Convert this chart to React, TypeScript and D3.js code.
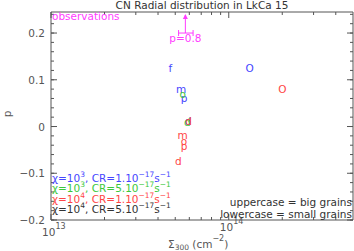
import React from "react";
import * as d3 from "d3";

// models: letter, sigma (cm^-2), p
const blueLetters = ["f", "m", "p", "d", "O"];
const blueSigma = [4.7e13, 5.4e13, 5.6e13, 5.9e13, 1.31e14];
const blueP = [0.125, 0.08, 0.06, 0.011, 0.125];

const greenLetters = ["o", "d"];
const greenSigma = [5.5e13, 5.85e13];
const greenP = [0.069, 0.009];

const redLetters = ["d", "m", "o", "p", "d", "O"];
const redSigma = [5.95e13, 5.5e13, 5.6e13, 5.6e13, 5.2e13, 2.0e14];
const redP = [0.011, -0.019, -0.03, -0.042, -0.074, 0.08];

const blackLetters: string[] = [];
const blackSigma: number[] = [];
const blackP: number[] = [];

const obsSigma = 5.7e13;
const obsSigmaLo = 5.22e13;
const obsSigmaHi = 6.3e13;
const obsP = 0.8;

const yMajor = [-0.2, -0.1, 0, 0.1, 0.2];
const yMajorLabels = ["\u22120.2", "\u22120.1", "0", "0.1", "0.2"];
const xMajor = [1e13, 1e14];
const xMajorExp = ["13", "14"];

const legendChi = ["3", "3", "4", "4"];
const legendCR = ["1", "5", "1", "5"];

const BLUE = "#4646ff";
const GREEN = "#3cc83c";
const RED = "#ff4646";
const BLACK = "#333333";
const MAGENTA = "#ff3cff";
const AXIS = "#555555";

const W = 354;
const H = 251;
const m = { left: 51, right: 353, top: 12, bottom: 220 };
const FONT = "DejaVu Sans";

export default function App() {
  const x = d3.scaleLog().domain([1e13, 5e14]).range([m.left, m.right]);
  const y = d3.scaleLinear().domain([-0.2, 0.245]).range([m.bottom, m.top]);

  const xMinor: number[] = [];
  for (const dec of [1e13, 1e14]) {
    for (let k = 2; k <= 9; k++) {
      const v = k * dec;
      if (v < 5e14) xMinor.push(v);
    }
  }
  const yMinor = d3.range(-0.2, 0.241, 0.02).map((v) => +v.toFixed(2));

  const series = [
    { color: BLUE, letters: blueLetters, sigma: blueSigma, p: blueP },
    { color: GREEN, letters: greenLetters, sigma: greenSigma, p: greenP },
    { color: RED, letters: redLetters, sigma: redSigma, p: redP },
    { color: BLACK, letters: blackLetters, sigma: blackSigma, p: blackP },
  ];
  const legendColors = [BLUE, GREEN, RED, BLACK];

  const ox = x(obsSigma);
  const oy = y(Math.min(obsP, 0.2));

  return (
    <svg
      width={W}
      height={H}
      style={{ position: "absolute", left: 0, top: 0, background: "#fff" }}
      fontFamily={FONT}
    >
      <rect width={W} height={H} fill="#fff" />
      {/* title */}
      <text x={(m.left + m.right) / 2} y={9} textAnchor="middle" fontSize={10.5} fill={BLACK}>
        CN Radial distribution in LkCa 15
      </text>

      {/* frame */}
      <g stroke={AXIS} strokeWidth={1} fill="none">
        <line x1={m.left} x2={m.right} y1={m.top} y2={m.top} />
        <line x1={m.left} x2={m.right} y1={m.bottom} y2={m.bottom} />
        <line x1={m.left} x2={m.left} y1={m.top} y2={m.bottom} />
        <line x1={m.right} x2={m.right} y1={m.top} y2={m.bottom} />
        {yMinor.map((v, i) => (
          <g key={"ym" + i}>
            <line x1={m.left} x2={m.left + 3} y1={y(v)} y2={y(v)} />
            <line x1={m.right} x2={m.right - 3} y1={y(v)} y2={y(v)} />
          </g>
        ))}
        {yMajor.map((v, i) => (
          <g key={"yM" + i}>
            <line x1={m.left} x2={m.left + 6} y1={y(v)} y2={y(v)} />
            <line x1={m.right} x2={m.right - 6} y1={y(v)} y2={y(v)} />
          </g>
        ))}
        {xMinor.map((v, i) => (
          <g key={"xm" + i}>
            <line x1={x(v)} x2={x(v)} y1={m.bottom} y2={m.bottom - 3} />
            <line x1={x(v)} x2={x(v)} y1={m.top} y2={m.top + 3} />
          </g>
        ))}
        {xMajor.map((v, i) => (
          <g key={"xM" + i}>
            <line x1={x(v)} x2={x(v)} y1={m.bottom} y2={m.bottom - 6} />
            <line x1={x(v)} x2={x(v)} y1={m.top} y2={m.top + 6} />
          </g>
        ))}
      </g>

      {/* y tick labels */}
      {yMajor.map((v, i) => (
        <text
          key={"yl" + i}
          x={45}
          y={y(v) + 4}
          textAnchor="end"
          fontSize={10.5}
          fill={AXIS}
        >
          {yMajorLabels[i]}
        </text>
      ))}
      {/* x tick labels */}
      {xMajor.map((v, i) => (
        <text
          key={"xl" + i}
          x={x(v) - 9}
          y={i === 0 ? 236 : 231}
          fontSize={10.5}
          fill={AXIS}
        >
          10
          <tspan dy={-7} fontSize={8}>
            {xMajorExp[i]}
          </tspan>
        </text>
      ))}

      {/* axis labels */}
      <text x={168} y={248} fontSize={10.5} fill={AXIS}>
        Σ
        <tspan dy={2} fontSize={7.5}>
          300
        </tspan>
        <tspan dy={-2}> (cm</tspan>
        <tspan dy={-7} fontSize={8}>
          −2
        </tspan>
        <tspan dy={7}>)</tspan>
      </text>
      <text
        transform={`translate(11,${(m.top + m.bottom) / 2 - 2}) rotate(-90)`}
        textAnchor="middle"
        fontSize={10.5}
        fill={AXIS}
      >
        p
      </text>

      {/* model letters */}
      {series.map((s, si) =>
        s.letters.map((l, i) => (
          <text
            key={`s${si}-${i}`}
            x={x(s.sigma[i])}
            y={y(s.p[i]) + 4}
            textAnchor="middle"
            fontSize={10.5}
            fill={s.color}
          >
            {l}
          </text>
        ))
      )}

      {/* observation */}
      <text x={m.left + 1} y={20} fontSize={10.5} fill={MAGENTA}>
        observations
      </text>
      <g stroke={MAGENTA} strokeWidth={1} fill="none">
        <line x1={x(obsSigmaLo)} x2={x(obsSigmaHi)} y1={oy} y2={oy} />
        <line x1={x(obsSigmaLo)} x2={x(obsSigmaLo)} y1={oy - 3} y2={oy + 3} />
        <line x1={x(obsSigmaHi)} x2={x(obsSigmaHi)} y1={oy - 3} y2={oy + 3} />
        <line x1={ox} x2={ox} y1={oy} y2={m.top + 3} />
      </g>
      <path
        d={`M${ox},${m.top + 2} L${ox - 2.5},${m.top + 7} L${ox + 2.5},${m.top + 7} Z`}
        fill={MAGENTA}
      />
      <text x={ox} y={oy + 9} textAnchor="middle" fontSize={10.5} fill={MAGENTA}>
        p=0.8
      </text>

      {/* legend */}
      {legendChi.map((c, i) => (
        <text key={"lg" + i} x={m.left + 1} y={182 + i * 10.3} fontSize={10.5} fill={legendColors[i]}>
          χ=10
          <tspan dy={-5} fontSize={7.5}>
            {c}
          </tspan>
          <tspan dy={5}>, CR={legendCR[i]}.10</tspan>
          <tspan dy={-5} fontSize={7.5}>
            −17
          </tspan>
          <tspan dy={5}>s</tspan>
          <tspan dy={-5} fontSize={7.5}>
            −1
          </tspan>
        </text>
      ))}

      <text x={m.right - 1} y={206} textAnchor="end" fontSize={10.5} fill={BLACK}>
        uppercase = big grains
      </text>
      <text x={m.right - 1} y={218} textAnchor="end" fontSize={10.5} fill={BLACK}>
        lowercase = small grains
      </text>
    </svg>
  );
}
